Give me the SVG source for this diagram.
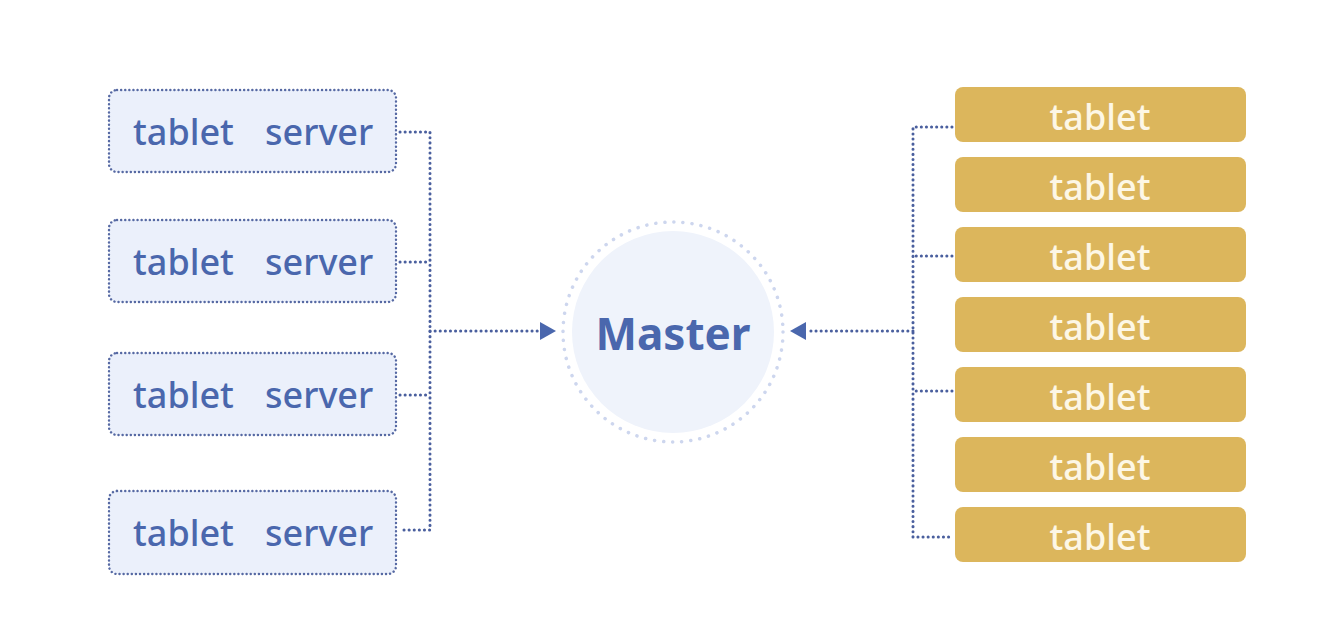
<svg xmlns="http://www.w3.org/2000/svg" width="1328" height="636" viewBox="0 0 1328 636">
<defs>
<style>
.srv rect{fill:#ebf0fb;stroke:#5669a3;stroke-width:2.4;stroke-dasharray:0.1 4;stroke-linecap:round;}
.srv text{fill:#4a67ad;font-family:"Noto Sans","Open Sans",sans-serif;font-size:36px;font-weight:500;}
.tab rect{fill:#dcb65c;}
.tab text{fill:#fdf7e6;font-family:"Noto Sans","Open Sans",sans-serif;font-size:36px;font-weight:500;text-anchor:middle;}
.con path{fill:none;stroke:#4a5f9e;stroke-width:3;stroke-dasharray:0.1 5;stroke-linecap:round;}
</style>
</defs>
<rect width="1328" height="636" fill="#ffffff"/>
<g id="srv1" class="srv"><rect x="109" y="90" width="287" height="82" rx="8"/><text x="133" y="145">tablet</text><text x="265" y="145">server</text></g>
<g id="srv2" class="srv"><rect x="109" y="220" width="287" height="82" rx="8"/><text x="133" y="275">tablet</text><text x="265" y="275">server</text></g>
<g id="srv3" class="srv"><rect x="109" y="353" width="287" height="82" rx="8"/><text x="133" y="408">tablet</text><text x="265" y="408">server</text></g>
<g id="srv4" class="srv"><rect x="109" y="491" width="287" height="83" rx="8"/><text x="133" y="546">tablet</text><text x="265" y="546">server</text></g>
<g id="master">
<circle cx="673" cy="332" r="110" fill="none" stroke="#cdd6ee" stroke-width="3.5" stroke-dasharray="0.1 9" stroke-linecap="round"/>
<circle cx="673" cy="332" r="101" fill="#eff3fb"/>
<text x="673" y="350" fill="#4a67ad" font-family="'Noto Sans','Open Sans',sans-serif" font-size="44" font-weight="bold" text-anchor="middle">Master</text>
</g>
<g id="t1" class="tab"><rect x="955" y="87" width="291" height="55" rx="8"/><text x="1100" y="130">tablet</text></g>
<g id="t2" class="tab"><rect x="955" y="157" width="291" height="55" rx="8"/><text x="1100" y="200">tablet</text></g>
<g id="t3" class="tab"><rect x="955" y="227" width="291" height="55" rx="8"/><text x="1100" y="270">tablet</text></g>
<g id="t4" class="tab"><rect x="955" y="297" width="291" height="55" rx="8"/><text x="1100" y="340">tablet</text></g>
<g id="t5" class="tab"><rect x="955" y="367" width="291" height="55" rx="8"/><text x="1100" y="410">tablet</text></g>
<g id="t6" class="tab"><rect x="955" y="437" width="291" height="55" rx="8"/><text x="1100" y="480">tablet</text></g>
<g id="t7" class="tab"><rect x="955" y="507" width="291" height="55" rx="8"/><text x="1100" y="550">tablet</text></g>
<g id="connectors" class="con">
<path d="M400,132 H430 V530 H400"/>
<path d="M400,262 H430"/>
<path d="M400,395 H430"/>
<path d="M430,331 H540"/>
<path d="M952,127 H913 V537 H952"/>
<path d="M952,256 H913"/>
<path d="M952,391 H913"/>
<path d="M913,331 H806"/>
</g>
<path d="M540,322 L556,331 L540,340 z" fill="#4a67ad"/>
<path d="M806,322 L790,331 L806,340 z" fill="#4a67ad"/>
</svg>
